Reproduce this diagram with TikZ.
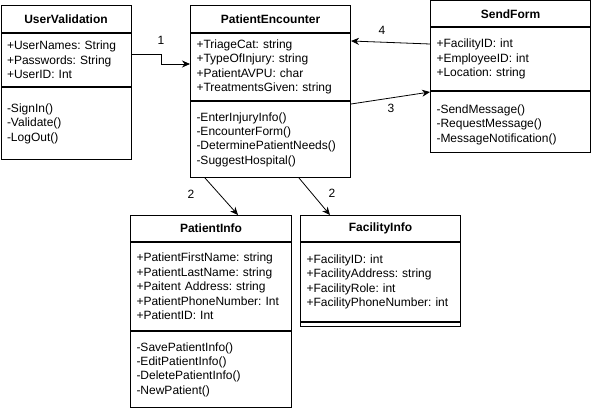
\documentclass[tikz,border=0pt]{standalone}
\usepackage{fontspec}
\setmainfont{Liberation Sans}
\usetikzlibrary{arrows.meta}

\tikzset{
  classTitle/.style={draw, line width=1pt, anchor=north west, font=\fontsize{12}{14.4}\selectfont\bfseries, inner sep=0pt},
  classBody/.style={draw, line width=1pt, anchor=north west, align=left, inner xsep=6pt, inner ysep=0pt, text width=#1},
  classBody/.default=148pt,
  conn/.style={line width=0.8pt, -{Stealth[length=8pt,width=7pt]}},
  mult/.style={inner sep=1pt}
}

\begin{document}
\frenchspacing
\begin{tikzpicture}[x=1pt, y=-1pt, font=\fontsize{12}{14.4}\selectfont\frenchspacing]
    \useasboundingbox (0,0) rectangle (591,409);

    % UserValidation
    \node[classTitle, minimum width=130, minimum height=27] (uvT) at (0.5,5) {UserValidation};
    \node[classBody=118pt, minimum height=53] (uvA) at (uvT.south west) {+UserNames: String\\+Passwords: String\\+UserID: Int};
    \node[classBody=118pt, minimum height=72] (uvM) at (uvA.south west) {-SignIn()\\-Validate()\\-LogOut()};

    % PatientEncounter
    \node[classTitle, minimum width=160, minimum height=27] (peT) at (190,5) {PatientEncounter};
    \node[classBody, minimum height=67] (peA) at (peT.south west) {+TriageCat: string\\+TypeOfInjury: string\\+PatientAVPU: char\\+TreatmentsGiven: string};
    \node[classBody, minimum height=76] (peM) at (peA.south west) {-EnterInjuryInfo()\\-EncounterForm()\\-DeterminePatientNeeds()\\-SuggestHospital()};

    % SendForm
    \node[classTitle, minimum width=160, minimum height=25.5] (sfT) at (430,0.5) {SendForm};
    \node[classBody, minimum height=63] (sfA) at (sfT.south west) {+FacilityID: int\\+EmployeeID: int\\+Location: string};
    \node[classBody, minimum height=61] (sfM) at (sfA.south west) {\mbox{}\\-SendMessage()\\-RequestMessage()\\-MessageNotification()};

    % PatientInfo
    \node[classTitle, minimum width=161, minimum height=26] (piT) at (130,215) {PatientInfo};
    \node[classBody=149pt, minimum height=88] (piA) at (piT.south west) {+PatientFirstName: string\\+PatientLastName: string\\+Paitent Address: string\\+PatientPhoneNumber: Int\\+PatientID: Int};
    \node[classBody=149pt, minimum height=76] (piM) at (piA.south west) {-SavePatientInfo()\\-EditPatientInfo()\\-DeletePatientInfo()\\-NewPatient()};

    % FacilityInfo
    \node[classTitle, minimum width=160, minimum height=26] (fiT) at (300,215) {FacilityInfo};
    \node[classBody, minimum height=79] (fiA) at (fiT.south west) {+FacilityID: int\\+FacilityAddress: string\\+FacilityRole: int\\+FacilityPhoneNumber: int};
    \node[classBody, minimum height=4] (fiM) at (fiA.south west) {};

    % connectors
    \draw[conn] ([yshift=-21pt]uvA.north east) -- ++(30,0) |- ([yshift=-31pt]peA.north west);
    \draw[conn] ([yshift=-17pt]sfA.north west) -- ([yshift=-8pt]peA.north east);
    \draw[conn] ([yshift=-3pt]peM.north east) -- ([yshift=-1pt]sfM.north west);
    \draw[conn] ([xshift=15pt]peM.south west) -- ([xshift=108pt]piT.north west);
    \draw[conn] ([xshift=109pt]peM.south west) -- ([xshift=30pt]fiT.north west);

    \node[mult] (m1) at (161,40) {1};
    \node[mult] (m4) at (382,30) {4};
    \node[mult] (m3) at (391,108) {3};
    \node[mult] (m2a) at (191,194) {2};
    \node[mult] (m2b) at (332,193) {2};
\end{tikzpicture}
\end{document}
